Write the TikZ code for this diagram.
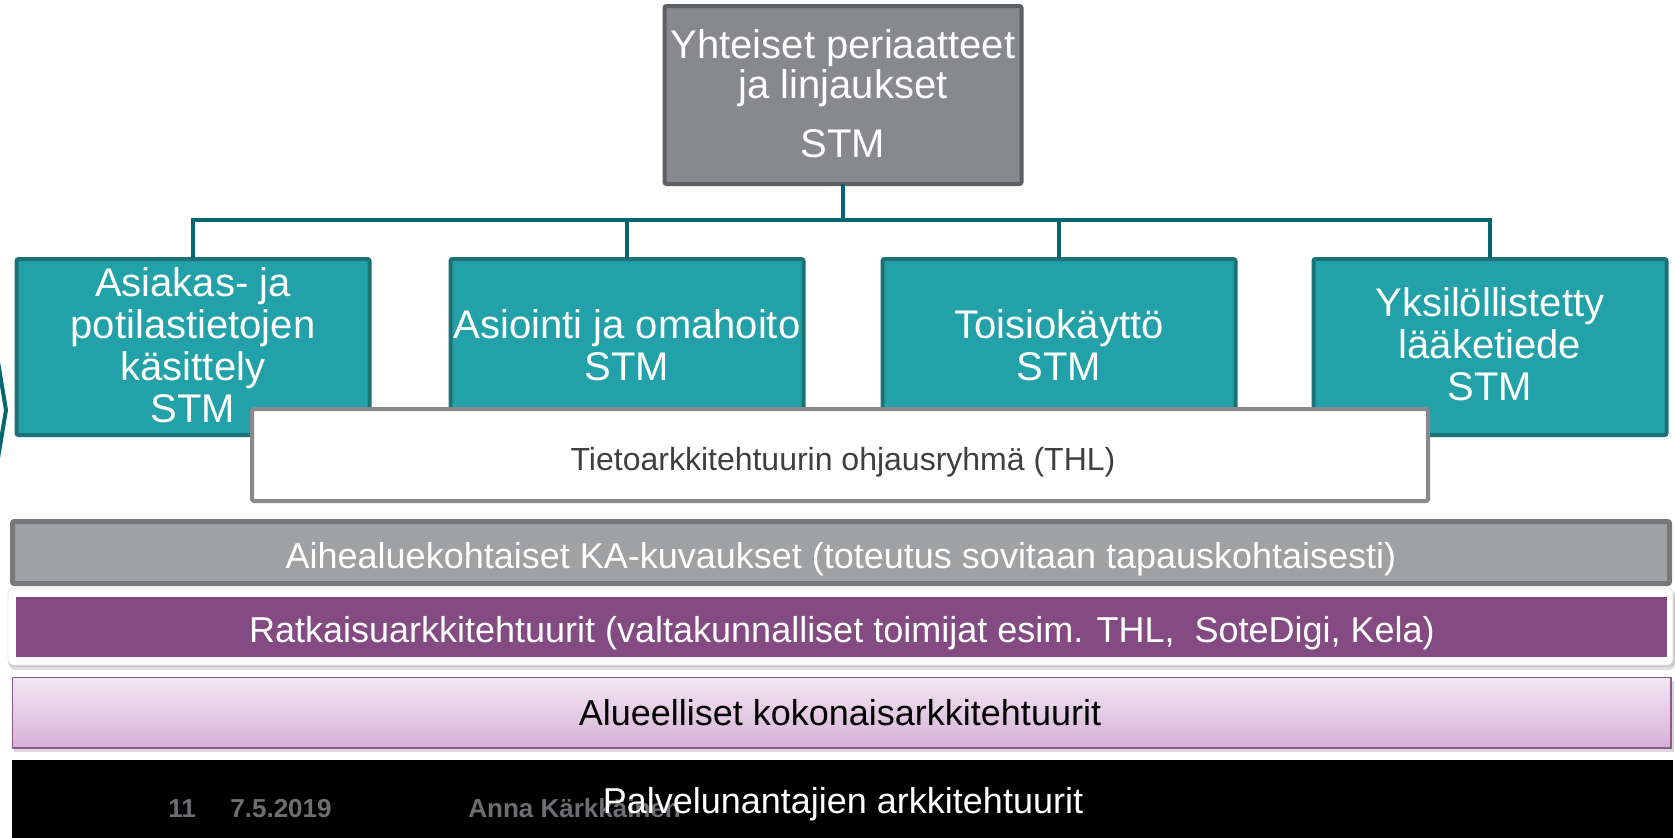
\documentclass[tikz,border=0pt]{standalone}
\usepackage{fontspec}
\setmainfont{Liberation Sans}
\definecolor{tealfill}{HTML}{22A1A9}
\definecolor{tealborder}{HTML}{1B7378}
\definecolor{connteal}{HTML}{02676E}
\definecolor{topfill}{HTML}{87898C}
\definecolor{topborder}{HTML}{5E6163}
\definecolor{thlborder}{HTML}{87898B}
\definecolor{thltext}{HTML}{3F3F3F}
\definecolor{grayfill}{HTML}{A0A1A3}
\definecolor{grayborder}{HTML}{76787A}
\definecolor{purplefill}{HTML}{834B82}
\definecolor{lilactop}{HTML}{F2E7F3}
\definecolor{lilacbot}{HTML}{D6B1D6}
\definecolor{lilacborder}{HTML}{8E588E}
\definecolor{footgray}{HTML}{6D6E71}
\begin{document}
\begin{tikzpicture}[x=0.5pt,y=-0.5pt,
  tealbox/.style={draw=tealborder, line width=2pt, fill=tealfill, minimum width=176.5pt, minimum height=88pt, inner sep=0pt, outer sep=0pt, rounded corners=1pt},
  topbox/.style={draw=topborder, line width=2pt, fill=topfill, minimum width=178.5pt, minimum height=89pt, inner sep=0pt, outer sep=0pt, rounded corners=1pt},
  wtext/.style={text=white, font=\fontsize{20pt}{20.85pt}\selectfont, align=center, inner sep=0pt, anchor=base},
  bartext/.style={font=\fontsize{18pt}{21pt}\selectfont, inner sep=0pt, anchor=base},
  foottext/.style={text=footgray, font=\fontsize{13pt}{15pt}\selectfont\bfseries, inner sep=0pt, anchor=base west},
  conn/.style={draw=connteal, line width=2.3pt}
]
\useasboundingbox (0,0) rectangle (1675,837);
\fill[white] (0,0) rectangle (1675,837);

% left chevron fragment
\draw[connteal, line width=2pt] (-2,362) -- (6,410) -- (-2,458);

% top box
\node[topbox] (top) at (843,95) {};
\node[wtext, font=\fontsize{20pt}{20pt}\selectfont] (topt) at (843,157) {Yhteiset periaatteet\\ja linjaukset\\[9.5pt]STM};

% teal boxes
\node[tealbox] (b1) at (193,347) {};
\node[tealbox] (b2) at (627,347) {};
\node[tealbox] (b3) at (1059,347) {};
\node[tealbox] (b4) at (1490,347) {};

% connectors
\coordinate (bus) at (843,220);
\draw[conn] (top.south) -- (top.south |- bus);
\draw[conn] (b1.north) |- (b4.north |- bus) -- (b4.north);
\draw[conn] (b2.north) -- (b2.north |- bus);
\draw[conn] (b3.north) -- (b3.north |- bus);

\node[wtext] (b1t) at (193,422) {Asiakas- ja\\potilastietojen\\käsittely\\STM};
\node[wtext] (b2t) at (627,380) {Asiointi ja omahoito\\STM};
\node[wtext] (b3t) at (1059,380) {Toisiokäyttö\\STM};
\node[wtext] (b4t) at (1490,400) {Yksilöllistetty\\lääketiede\\STM};

% THL box
\node[draw=thlborder, line width=2pt, fill=white, minimum width=588pt, minimum height=46pt, inner sep=0pt, outer sep=0pt, rounded corners=1pt] (thl) at (840,455) {};
\node[bartext, text=thltext, font=\fontsize{16pt}{18pt}\selectfont] (thlt) at (843,470) {Tietoarkkitehtuurin ohjausryhmä (THL)};

% gray bar
\node[draw=grayborder, line width=2.5pt, fill=grayfill, minimum width=828.5pt, minimum height=31pt, inner sep=0pt, outer sep=0pt, rounded corners=1pt] (gray) at (841,552.5) {};
\node[bartext, text=white] (grayt) at (841,568) {Aihealuekohtaiset KA-kuvaukset (toteutus sovitaan tapauskohtaisesti)};

% purple bar with white frame
\fill[black, opacity=0.12, rounded corners=3pt] (9,591) rectangle (1675,670);
\fill[black, opacity=0.10, rounded corners=3pt] (8,589) rectangle (1675,667);
\node[fill=white, draw=black!10, line width=0.4pt, minimum width=832.5pt, minimum height=38.5pt, inner sep=0pt, outer sep=0pt, rounded corners=3pt] (pframe) at (840.5,626.5) {};
\node[fill=purplefill, minimum width=825.5pt, minimum height=30pt, inner sep=0pt, outer sep=0pt] (purple) at (841.5,627) {};
\node[bartext, text=white] (purplet) at (842,642) {Ratkaisuarkkitehtuurit (valtakunnalliset toimijat esim. THL,\ \ SoteDigi, Kela)};

% lilac gradient bar
\fill[black, opacity=0.15] (14,681) rectangle (1674,752);
\node[draw=lilacborder, line width=0.75pt, top color=lilactop, bottom color=lilacbot, minimum width=829.25pt, minimum height=35.25pt, inner sep=0pt, outer sep=0pt] (lilac) at (841.5,712.5) {};
\node[bartext, text=black] (lilact) at (840,725) {Alueelliset kokonaisarkkitehtuurit};

% black bar
\node[fill=black, minimum width=830.5pt, minimum height=42.5pt, inner sep=0pt, outer sep=0pt] (blackbar) at (842.5,802.5) {};
\node[foottext] (f1) at (168,817) {11};
\node[foottext] (f2) at (230,817) {7.5.2019};
\node[foottext] (f3) at (468,817) {Anna Kärkkäinen};
\node[bartext, text=white] (blackt) at (843,813) {Palvelunantajien arkkitehtuurit};
\end{tikzpicture}
\end{document}
